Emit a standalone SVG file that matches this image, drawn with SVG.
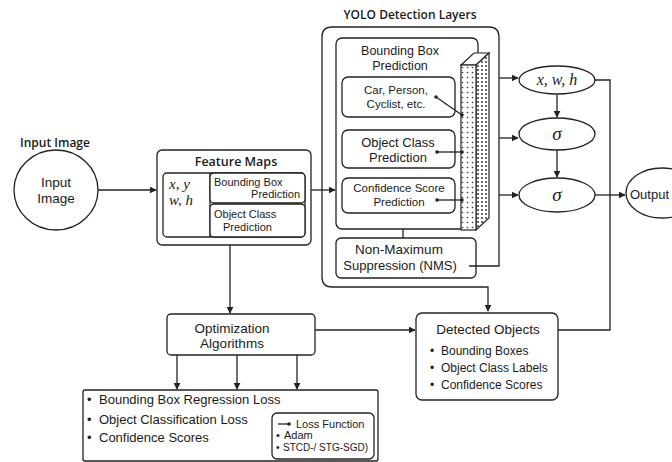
<svg xmlns="http://www.w3.org/2000/svg" width="672" height="462" viewBox="0 0 672 462">
<defs>
<style>
.t{font-family:"Liberation Sans",Arial,sans-serif;fill:#1a1a1a}
.b{font-family:"Open Sans","Liberation Sans",Arial,sans-serif;font-weight:600}
.m{font-family:"Liberation Serif","Times New Roman",serif;font-style:italic;fill:#1a1a1a}
.box{fill:#fff;stroke:#222;stroke-width:1.3}
.ln{fill:none;stroke:#222;stroke-width:1.3}
.dot{fill:#222}
</style>
<marker id="ah" viewBox="0 0 10 10" refX="9" refY="5" markerWidth="7" markerHeight="7" orient="auto" markerUnits="userSpaceOnUse">
<path d="M0,0 L10,5 L0,10 z" fill="#222"/>
</marker>
<pattern id="dots" width="5" height="5" patternUnits="userSpaceOnUse">
<rect width="5" height="5" fill="#fff"/>
<circle cx="2.5" cy="2.5" r="0.8" fill="#333"/>
</pattern>
<pattern id="dots2" width="4" height="4" patternUnits="userSpaceOnUse">
<rect width="4" height="4" fill="#fff"/>
<circle cx="2" cy="2" r="0.9" fill="#222"/>
</pattern>
</defs>
<rect width="672" height="462" fill="#fff"/>

<g id="input-image">
<text class="t b" x="55" y="147" text-anchor="middle" font-size="12">Input Image</text>
<ellipse class="box" cx="56" cy="190" rx="42" ry="40"/>
<text class="t" x="56" y="187" text-anchor="middle" font-size="13.5">Input</text>
<text class="t" x="56" y="203" text-anchor="middle" font-size="13.5">Image</text>
</g>

<g id="feature-maps">
<rect class="box" x="157" y="150" width="154" height="95" rx="5"/>
<text class="t b" x="236" y="166" text-anchor="middle" font-size="12.5">Feature Maps</text>
<rect class="box" x="163" y="173" width="142" height="64" rx="4"/>
<line class="ln" x1="210" y1="173" x2="210" y2="237"/>
<rect class="box" x="210" y="173" width="95" height="30" rx="4"/>
<rect class="box" x="210" y="204" width="95" height="33" rx="4"/>
<text class="m" x="169" y="189" font-size="15">x, y</text>
<text class="m" x="169" y="205" font-size="15">w, h</text>
<text class="t" x="214" y="186" font-size="11">Bounding Box</text>
<text class="t" x="300" y="198" text-anchor="end" font-size="11">Prediction</text>
<text class="t" x="214" y="218" font-size="11">Object Class</text>
<text class="t" x="223" y="231" font-size="11">Prediction</text>
</g>

<g id="yolo-layers">
<text class="t b" x="410" y="19" text-anchor="middle" font-size="12">YOLO Detection Layers</text>
<rect class="box" x="336" y="38" width="142" height="191" rx="6"/>
<text class="t" x="400" y="55" text-anchor="middle" font-size="12.5">Bounding Box</text>
<text class="t" x="400" y="70" text-anchor="middle" font-size="12.5">Prediction</text>
<polygon points="461,65 474,53 489,53 476,65" fill="#fff" stroke="#222" stroke-width="1.2"/>
<polygon points="476,65 489,53 489,218 476,230" fill="url(#dots2)" stroke="#222" stroke-width="1.2"/>
<rect x="461" y="65" width="15" height="165" fill="url(#dots)" stroke="#222" stroke-width="1.2"/>
</g>

<g id="class-labels">
<rect class="box" x="342" y="77" width="113" height="40" rx="6"/>
<text class="t" x="396" y="94" text-anchor="middle" font-size="11.5">Car, Person,</text>
<text class="t" x="396" y="108" text-anchor="middle" font-size="11.5">Cyclist, etc.</text>
</g>

<g id="object-class">
<rect class="box" x="342" y="130" width="113" height="38" rx="6"/>
<text class="t" x="398" y="147" text-anchor="middle" font-size="13">Object Class</text>
<text class="t" x="398" y="162" text-anchor="middle" font-size="13">Prediction</text>
</g>

<g id="confidence-score">
<rect class="box" x="342" y="178" width="113" height="35" rx="6"/>
<text class="t" x="399" y="192" text-anchor="middle" font-size="11.5">Confidence Score</text>
<text class="t" x="399" y="206" text-anchor="middle" font-size="11.5">Prediction</text>
</g>

<g id="nms">
<rect class="box" x="336" y="238" width="140" height="40" rx="5"/>
<text class="t" x="399" y="254" text-anchor="middle" font-size="13.5">Non-Maximum</text>
<text class="t" x="400" y="270" text-anchor="middle" font-size="13">Suppression (NMS)</text>
</g>

<g id="xwh">
<ellipse class="box" cx="557" cy="80" rx="38" ry="14"/>
<text class="m" x="557" y="85" text-anchor="middle" font-size="16">x, w, h</text>
</g>
<g id="sigma1">
<ellipse class="box" cx="557" cy="134" rx="38" ry="16"/>
<text class="m" x="557" y="140" text-anchor="middle" font-size="19">σ</text>
</g>
<g id="sigma2">
<ellipse class="box" cx="557" cy="195" rx="38" ry="17"/>
<text class="m" x="557" y="201" text-anchor="middle" font-size="19">σ</text>
</g>

<g id="output">
<ellipse class="box" cx="662" cy="193" rx="36" ry="25"/>
<text class="t" x="630" y="199" font-size="13">Output</text>
</g>

<g id="optimization">
<rect class="box" x="167" y="314" width="148" height="41" rx="4"/>
<text class="t" x="232" y="333" text-anchor="middle" font-size="13.5">Optimization</text>
<text class="t" x="232" y="348" text-anchor="middle" font-size="13.5">Algorithms</text>
</g>

<g id="detected-objects">
<rect class="box" x="416" y="313" width="142" height="87" rx="6"/>
<text class="t" x="488" y="334" text-anchor="middle" font-size="13.5">Detected Objects</text>
<text class="t" x="430" y="355" font-size="12">•</text>
<text class="t" x="441" y="355" font-size="12">Bounding Boxes</text>
<text class="t" x="430" y="372" font-size="12">•</text>
<text class="t" x="441" y="372" font-size="12">Object Class Labels</text>
<text class="t" x="430" y="389" font-size="12">•</text>
<text class="t" x="441" y="389" font-size="12">Confidence Scores</text>
</g>

<g id="losses">
<rect class="box" x="83" y="390" width="295" height="71" rx="2"/>
<text class="t" x="87" y="404" font-size="13">•</text>
<text class="t" x="99" y="404" font-size="13">Bounding Box Regression Loss</text>
<text class="t" x="87" y="424" font-size="13">•</text>
<text class="t" x="99" y="424" font-size="13">Object Classification Loss</text>
<text class="t" x="87" y="442" font-size="13">•</text>
<text class="t" x="99" y="442" font-size="13">Confidence Scores</text>
</g>

<g id="optimizers">
<rect class="box" x="272" y="413" width="102" height="46" rx="5"/>
<line class="ln" x1="278" y1="424" x2="288" y2="424"/>
<circle class="dot" cx="289" cy="424" r="1.8"/>
<text class="t" x="296" y="428" font-size="11">Loss Function</text>
<text class="t" x="276" y="439" font-size="11">•</text>
<text class="t" x="284" y="439" font-size="11">Adam</text>
<text class="t" x="276" y="451" font-size="10">•</text>
<text class="t" x="283" y="451" font-size="10">STCD-/ STG-SGD)</text>
</g>

<g id="connectors">
<line class="ln" x1="98" y1="190" x2="156" y2="190" marker-end="url(#ah)"/>
<line class="ln" x1="311" y1="190" x2="335" y2="190" marker-end="url(#ah)"/>
<path class="ln" d="M469,266 L499,266 L499,37 Q499,27 489,27 L332,27 Q322,27 322,37 L322,277 Q322,287 332,287 L488,287 L488,311" marker-end="url(#ah)"/>
<line class="ln" x1="403" y1="229" x2="403" y2="238"/>
<line class="ln" x1="436" y1="97" x2="462" y2="115"/>
<circle class="dot" cx="436" cy="97" r="1.8"/>
<circle class="dot" cx="462" cy="115" r="1.8"/>
<line class="ln" x1="437" y1="152" x2="462" y2="152"/>
<circle class="dot" cx="437" cy="152" r="1.8"/>
<circle class="dot" cx="462" cy="152" r="1.8"/>
<line class="ln" x1="437" y1="200" x2="462" y2="200"/>
<circle class="dot" cx="437" cy="200" r="1.8"/>
<circle class="dot" cx="462" cy="200" r="1.8"/>
<line class="ln" x1="499" y1="78" x2="518" y2="78" marker-end="url(#ah)"/>
<line class="ln" x1="499" y1="138" x2="518" y2="138" marker-end="url(#ah)"/>
<line class="ln" x1="499" y1="195" x2="518" y2="195" marker-end="url(#ah)"/>
<line class="ln" x1="557" y1="95" x2="557" y2="117" marker-end="url(#ah)"/>
<line class="ln" x1="557" y1="150" x2="557" y2="177" marker-end="url(#ah)"/>
<path class="ln" d="M595,80 L610,80 L610,330 L558,330"/>
<line class="ln" x1="595" y1="195" x2="625" y2="195" marker-end="url(#ah)"/>
<line class="ln" x1="230" y1="245" x2="230" y2="313" marker-end="url(#ah)"/>
<line class="ln" x1="315" y1="330" x2="415" y2="330" marker-end="url(#ah)"/>
<line class="ln" x1="177" y1="355" x2="177" y2="389" marker-end="url(#ah)"/>
<line class="ln" x1="237" y1="355" x2="237" y2="389" marker-end="url(#ah)"/>
<line class="ln" x1="297" y1="355" x2="297" y2="389" marker-end="url(#ah)"/>
</g>
</svg>
